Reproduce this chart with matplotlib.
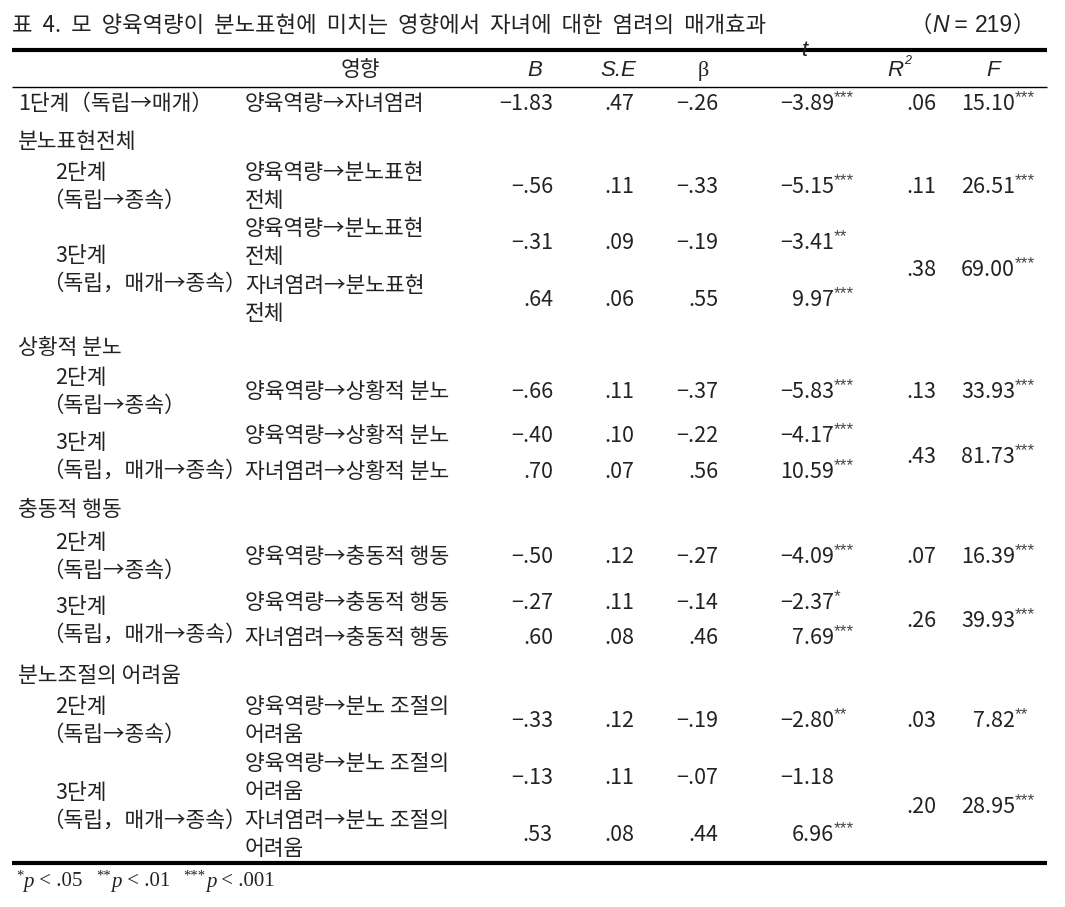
import matplotlib
matplotlib.use('Agg')
import matplotlib.pyplot as plt

KR = ['Noto Sans CJK KR', 'DejaVu Sans']
LAT = ['Liberation Sans', 'DejaVu Sans']
SERIF = ['Liberation Serif', 'DejaVu Serif']

# ---------------- data ----------------
title = '표  4.  모  양육역량이  분노표현에  미치는  영향에서  자녀에  대한  염려의  매개효과'
n_value = '219'
columns = ['영향', 'B', 'S.E', 'β', 't', 'R', 'F']
sections = ['분노표현전체', '상황적 분노', '충동적 행동', '분노조절의 어려움']
stage_labels = ['1단계（독립→매개）',
                '2단계\n（독립→종속）', '3단계\n（독립，매개→종속）',
                '2단계\n（독립→종속）', '3단계\n（독립，매개→종속）',
                '2단계\n（독립→종속）', '3단계\n（독립，매개→종속）',
                '2단계\n（독립→종속）', '3단계\n（독립，매개→종속）']
paths = ['양육역량→자녀염려',
         '양육역량→분노표현\n전체', '양육역량→분노표현\n전체', '자녀염려→분노표현\n전체',
         '양육역량→상황적 분노', '양육역량→상황적 분노', '자녀염려→상황적 분노',
         '양육역량→충동적 행동', '양육역량→충동적 행동', '자녀염려→충동적 행동',
         '양육역량→분노 조절의\n어려움', '양육역량→분노 조절의\n어려움', '자녀염려→분노 조절의\n어려움']
B_vals = [-1.83, -0.56, -0.31, 0.64, -0.66, -0.40, 0.70, -0.50, -0.27, 0.60, -0.33, -0.13, 0.53]
SE_vals = [0.47, 0.11, 0.09, 0.06, 0.11, 0.10, 0.07, 0.12, 0.11, 0.08, 0.12, 0.11, 0.08]
beta_vals = [-0.26, -0.33, -0.19, 0.55, -0.37, -0.22, 0.56, -0.27, -0.14, 0.46, -0.19, -0.07, 0.44]
t_vals = [-3.89, -5.15, -3.41, 9.97, -5.83, -4.17, 10.59, -4.09, -2.37, 7.69, -2.80, -1.18, 6.96]
t_sig = ['***', '***', '**', '***', '***', '***', '***', '***', '*', '***', '**', '', '***']
R2_vals = [0.06, 0.11, 0.38, 0.13, 0.43, 0.07, 0.26, 0.03, 0.20]
F_vals = [15.10, 26.51, 69.00, 33.93, 81.73, 16.39, 39.93, 7.82, 28.95]
F_sig = ['***', '***', '***', '***', '***', '***', '***', '**', '***']
footnote = [('*', '.05'), ('**', '.01'), ('***', '.001')]

# ---------------- layout ----------------
row_y = [104, 187, 243, 300, 392, 436, 472, 557, 603, 638, 721, 778, 835]
model_y = [104, 187, 270, 392, 457, 557, 621, 721, 807]
section_y = [142, 348, 510, 676]
LINE_GAP = 28
X_LEFT, X_RIGHT = 12, 1047
X_SEC, X_STAGE, X_STAGE2, X_PATH = 18, 55, 42, 245
X_B, X_SE, X_BETA, X_T, X_R2, X_F = 553, 634, 718, 834, 936, 1015
FS = 15.5
FS_NUM = 15.5
FS_STAR = 12.5
COL = '#222222'


def fmt(v):
    s = f'{abs(v):.2f}'
    if s.startswith('0.'):
        s = s[1:]
    return ('−' if v < 0 else '') + s


fig = plt.figure(figsize=(10.65, 9.07), dpi=100)
ax = fig.add_axes([0, 0, 1, 1])
ax.set_xlim(0, 1065)
ax.set_ylim(907, 0)
ax.axis('off')
fig.canvas.draw()
renderer = fig.canvas.get_renderer()


def kr(x, y, s, ha='left', fs=FS, **kw):
    ax.text(x, y, s, fontfamily=KR, fontsize=fs, ha=ha, va='center',
            linespacing=1.3, color=COL, **kw)


def num(x, y, s, stars=''):
    ax.text(x, y, s, fontfamily=KR, fontsize=FS_NUM, ha='right', va='center', color=COL)
    if stars:
        ax.text(x, y - 6, stars, fontfamily=LAT, fontsize=FS_STAR, ha='left',
                va='center', color='#444444')


def width_of(s, **kw):
    t = ax.text(0, 0, s, **kw)
    bb = t.get_window_extent(renderer=renderer)
    t.remove()
    return bb.width  # 1 px == 1 data unit here


def runs(x, y, parts, ha='left', gap=0.0):
    """parts: list of (text, dy, props). Places pieces one after another."""
    widths = [width_of(s, **p) for s, dy, p in parts]
    total = sum(widths) + gap * (len(parts) - 1)
    if ha == 'right':
        x = x - total
    for (s, dy, p), w in zip(parts, widths):
        ax.text(x, y + dy, s, ha='left', va='center', color=COL, **p)
        x += w + gap
    return x


# title
kr(X_LEFT, 25, title, fs=16)
runs(X_RIGHT - 12, 25, [
    ('（', 0, dict(fontfamily=KR, fontsize=16)),
    ('N', 0, dict(fontfamily=LAT, fontsize=16.5, style='italic')),
    (' = ', 0, dict(fontfamily=LAT, fontsize=16.5)),
    (n_value, 0, dict(fontfamily=LAT, fontsize=16.5)),
    ('）', 0, dict(fontfamily=KR, fontsize=16)),
], ha='right')

# rules
ax.plot([X_LEFT, X_RIGHT], [50, 50], color='black', lw=3.0, solid_capstyle='butt')
ax.plot([X_LEFT, X_RIGHT], [87, 87], color='black', lw=1.0, solid_capstyle='butt')
ax.plot([X_LEFT, X_RIGHT], [863, 863], color='black', lw=3.0, solid_capstyle='butt')

# header
hy = 70
IT = dict(fontfamily=LAT, fontsize=16, style='italic', va='center', color=COL)
kr(360, hy, columns[0], ha='center')
ax.text(535, hy, columns[1], ha='center', **IT)
ax.text(618, hy, columns[2], ha='center', **IT)
ax.text(703, hy + 1, columns[3], fontfamily=SERIF, fontsize=16, ha='center', va='center', color=COL)
ax.text(805, 50, columns[4], ha='center', **IT)
ax.text(903, hy, columns[5], ha='right', **IT)
ax.text(904, hy - 9, '2', fontfamily=LAT, fontsize=9, style='italic', ha='left', va='center', color=COL)
ax.text(993, hy, columns[6], ha='center', **IT)

# section labels
for s, y in zip(sections, section_y):
    kr(X_SEC, y, s)

# stage labels + model stats
for i, (lab, y) in enumerate(zip(stage_labels, model_y)):
    if i == 0:
        kr(X_SEC, y, lab)
    else:
        l1, l2 = lab.split('\n')
        kr(X_STAGE, y - LINE_GAP / 2, l1)
        kr(X_STAGE2, y + LINE_GAP / 2, l2)
    num(X_R2, y, fmt(R2_vals[i]))
    num(X_F, y, fmt(F_vals[i]), F_sig[i])

# path rows
for i, y in enumerate(row_y):
    lines = paths[i].split('\n')
    if len(lines) == 1:
        kr(X_PATH, y, lines[0])
    else:
        kr(X_PATH, y - LINE_GAP / 2, lines[0])
        kr(X_PATH, y + LINE_GAP / 2, lines[1])
    num(X_B, y, fmt(B_vals[i]))
    num(X_SE, y, fmt(SE_vals[i]))
    num(X_BETA, y, fmt(beta_vals[i]))
    num(X_T, y, fmt(t_vals[i]), t_sig[i])

# footnote
x = 16
fy = 882
for stars, val in footnote:
    x = runs(x, fy, [
        (stars, -6, dict(fontfamily=SERIF, fontsize=10.5)),
        ('p', 0, dict(fontfamily=SERIF, fontsize=15, style='italic')),
        (' < ' + val, 0, dict(fontfamily=SERIF, fontsize=15)),
    ])
    x += 14

fig.savefig('out.png', dpi=100)
